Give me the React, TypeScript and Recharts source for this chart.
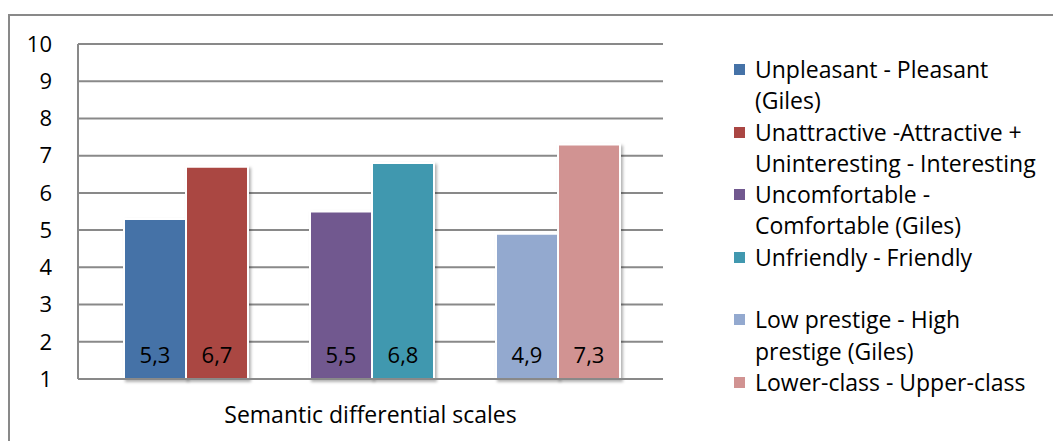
import React from 'react';
import { BarChart, Bar, XAxis, YAxis, CartesianGrid, LabelList, Rectangle } from 'recharts';

const CATEGORY = 'Semantic differential scales';

const SCALE_NAMES = [
    'Unpleasant - Pleasant\n(Giles)',
    'Unattractive -Attractive +\nUninteresting - Interesting',
    'Uncomfortable -\nComfortable (Giles)',
    'Unfriendly - Friendly',
    'Low prestige - High\nprestige (Giles)',
    'Lower-class - Upper-class',
];

const SCALE_VALUES = [5.3, 6.7, 5.5, 6.8, 4.9, 7.3];

const COLORS = ['#4572A7', '#AA4643', '#71588F', '#4198AF', '#93A9CF', '#D19392'];

const Y_TICKS = [1, 2, 3, 4, 5, 6, 7, 8, 9, 10];

// bar slots: pairs of scales with an empty slot between them
const SLOTS = [0, 1, null, 2, 3, null, 4, 5];

const row: Record<string, string | number> = { name: CATEGORY };
SCALE_VALUES.forEach((v, i) => {
    row[`s${i}`] = v;
});
const data = [row];

const AXIS = '#898989';
const FONT = "'Open Sans', sans-serif";

const commaDecimal = (v: any) => String(v).replace('.', ',');

const ShadowBar = (props: any) => <Rectangle {...props} filter="url(#barShadow)" />;

function ScaleLegend() {
    return (
        <div style={{ position: 'absolute', left: 734, top: 54, fontFamily: FONT, fontSize: 23, color: '#000' }}>
            {SCALE_NAMES.map((name, i) => (
                <React.Fragment key={name}>
                    <div style={{ display: 'flex', alignItems: 'flex-start', lineHeight: '31.3px' }}>
                        <span style={{ width: 11, height: 11, marginTop: 10, background: COLORS[i], flex: 'none' }} />
                        <span style={{ marginLeft: 10, whiteSpace: 'pre-line' }}>{name}</span>
                    </div>
                    {i === 3 && <div style={{ height: 31.3 }} />}
                </React.Fragment>
            ))}
        </div>
    );
}

export default function App() {
    return (
        <div style={{ position: 'absolute', left: 0, top: 0, width: 1053, height: 441, background: '#fff', overflow: 'hidden', fontFamily: FONT }}>
            {/* chart frame */}
            <div style={{ position: 'absolute', left: 8, top: 14, right: 0, bottom: 0, borderLeft: `2px solid ${AXIS}`, borderTop: `2px solid ${AXIS}` }} />
            <div style={{ position: 'absolute', left: 0, top: 0 }}>
                <BarChart width={1053} height={441} data={data} margin={{ top: 44, right: 390, bottom: 0, left: 0 }} barCategoryGap={46} barGap={0}>
                    <defs>
                        <filter id="barShadow" x="-10%" y="-10%" width="130%" height="130%">
                            <feDropShadow dx="2" dy="2" stdDeviation="1.5" floodColor="#000" floodOpacity="0.3" />
                        </filter>
                    </defs>
                    <CartesianGrid vertical={false} stroke={AXIS} strokeWidth={2} />
                    <XAxis dataKey="name" tick={false} tickLine={false} height={62} axisLine={{ stroke: AXIS, strokeWidth: 2 }}
                        label={{ value: CATEGORY, position: 'insideBottom', offset: 18, fill: '#000', fontSize: 23 }} />
                    <YAxis domain={[1, 10]} ticks={Y_TICKS} interval={0} width={78} tickLine={false} tickMargin={20}
                        axisLine={{ stroke: AXIS, strokeWidth: 2 }} tick={{ fill: '#000', fontSize: 22 }} />
                    {SLOTS.map((s, i) =>
                        s === null ? (
                            <Bar key={`gap${i}`} dataKey={`gap${i}`} isAnimationActive={false} legendType="none" />
                        ) : (
                            <Bar key={`s${s}`} dataKey={`s${s}`} fill={COLORS[s]} stroke="#fff" strokeWidth={2}
                                shape={ShadowBar} isAnimationActive={false}>
                                <LabelList dataKey={`s${s}`} position="insideBottom" offset={16} formatter={commaDecimal}
                                    fill="#000" fontSize={22} />
                            </Bar>
                        )
                    )}
                </BarChart>
            </div>
            <ScaleLegend />
        </div>
    );
}
